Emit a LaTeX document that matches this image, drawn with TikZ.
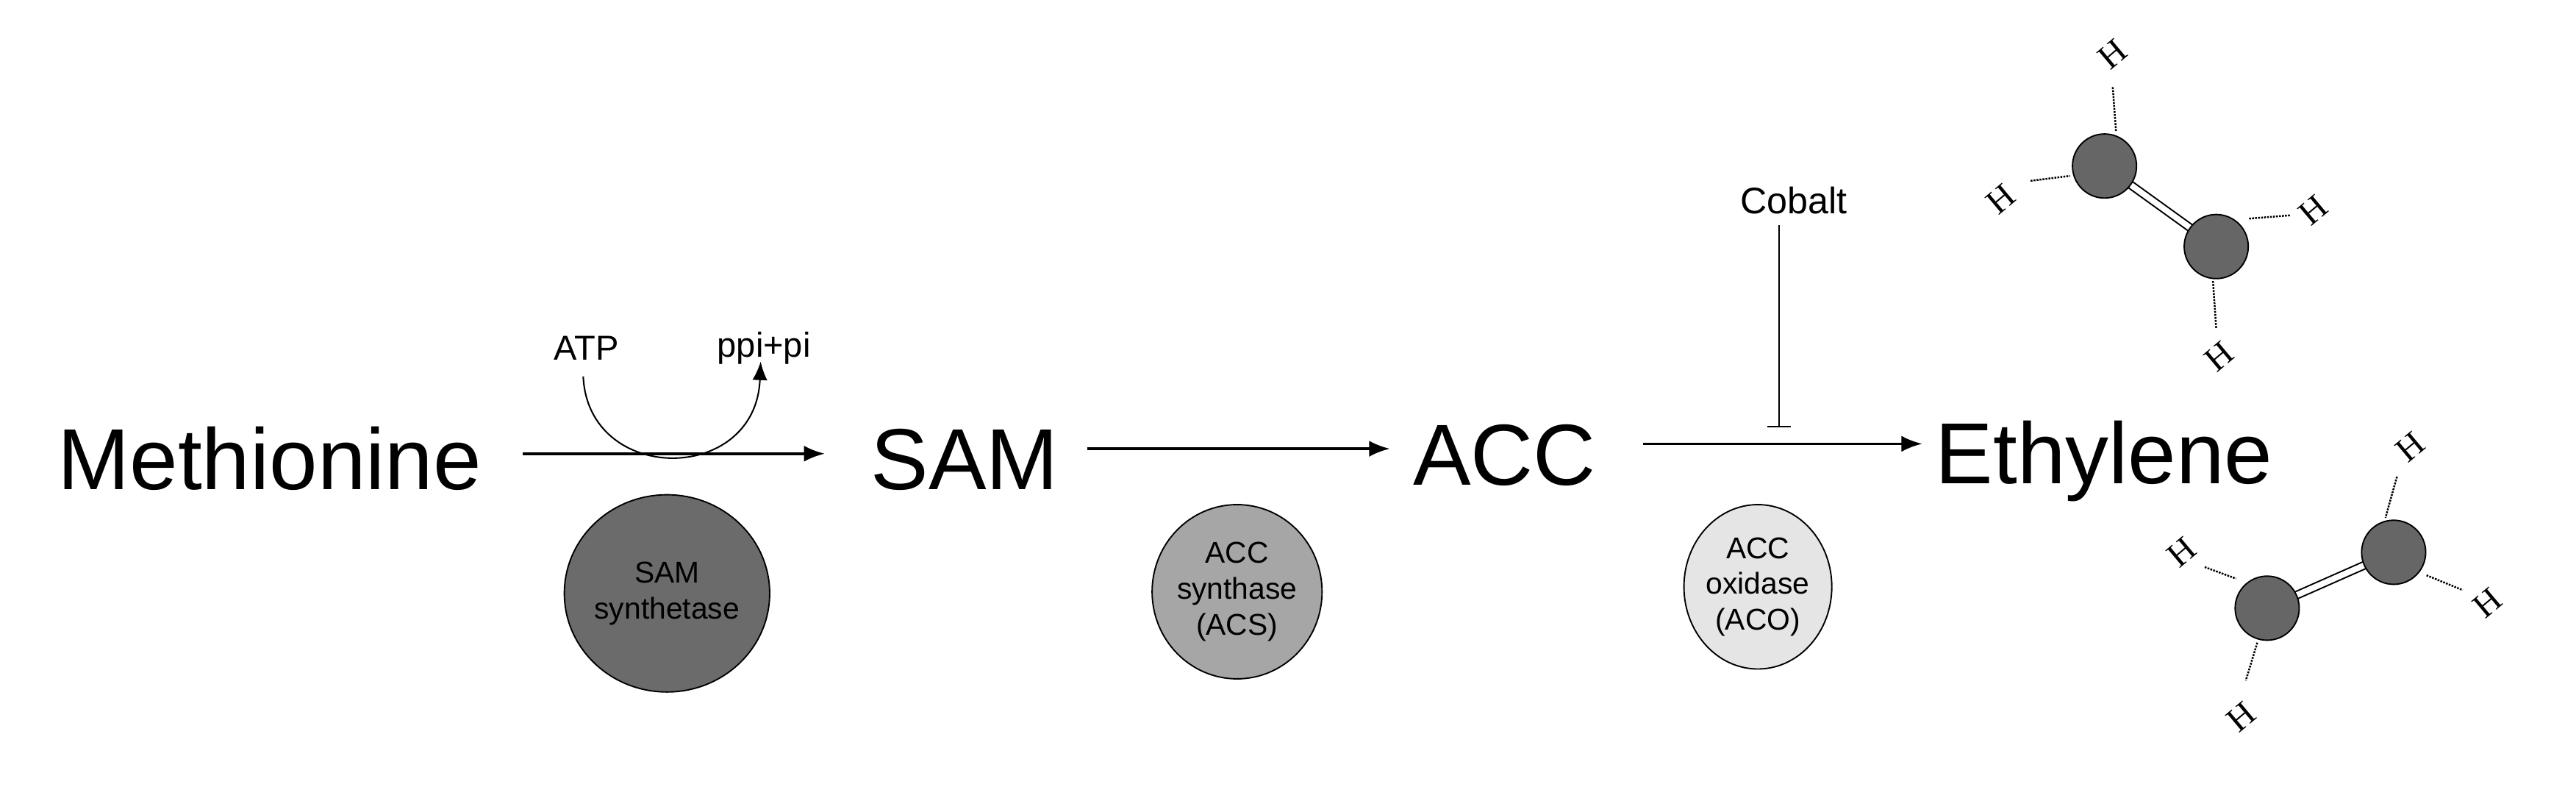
\documentclass[tikz,border=0pt]{standalone}
\usepackage{fontspec}
\setmainfont{Liberation Sans}
\newfontfamily\hserif{Liberation Serif}
\usetikzlibrary{arrows.meta}
\begin{document}
\begin{tikzpicture}[x=0.05cm,y=-0.05cm,
  big/.style={font=\fontsize{75}{80}\selectfont,inner sep=0pt,anchor=base west},
  small/.style={font=\fontsize{30}{34}\selectfont,inner sep=0pt},
  enz/.style={ellipse,draw=black,line width=1.2pt,align=center,inner sep=0pt,font=\fontsize{26}{31}\selectfont},
  arr/.style={line width=2.2pt,-{Latex[length=18pt,width=14pt]}},
  atom/.style={circle,draw=black,line width=1.2pt,fill=black!60,minimum size=39*0.05cm,inner sep=0pt},
  hh/.style={font=\hserif\fontsize{30}{30}\selectfont,inner sep=0pt},
  hb/.style={densely dotted,line width=1.6pt},
  cc/.style={double=white,double distance=5pt,line width=1.3pt}]
\useasboundingbox (0,0) rectangle (1568,487);
\usetikzlibrary{shapes.geometric}
% main texts
\node[big] (met) at (35,298) {Methionine};
\node[big] (sam) at (530,298) {SAM};
\node[big] (acc) at (860,295) {ACC};
\node[big] (eth) at (1178,294) {Ethylene};
% arrows
\coordinate (a1s) at (318,276); \coordinate (a1e) at (502,276);
\coordinate (a2s) at (662,273); \coordinate (a2e) at (846,273);
\coordinate (a3s) at (1000,270); \coordinate (a3e) at (1170,270);
\draw[arr] (a1s) -- (a1e);
\draw[arr] (a2s) -- (a2e);
\draw[arr] (a3s) -- (a3e);
% ATP loop
\node[small] (atp) at (357,212) {ATP};
\node[small] (ppi) at (465,212) {ppi+pi};
\coordinate (l1) at (355,229);
\coordinate (l3) at (463,220);
\draw[line width=1.3pt,-{Latex[length=16pt,width=13pt]}] (l1) .. controls (358,295) and (460,295) .. (l3);
% Cobalt inhibition
\node[small,font=\fontsize{32}{36}\selectfont] (cob) at (1092,122) {Cobalt};
\coordinate (inh) at (1083,260);
\draw[line width=1.3pt,-{Bar[width=20pt]}] (1083,137) -- (inh);
% enzymes
\node[enz,fill=black!58,minimum width=112*0.05cm,minimum height=120*0.05cm] (e1) at (406,361) {SAM\\synthetase};
\node[enz,fill=black!35,minimum width=95*0.05cm,minimum height=106*0.05cm] (e2) at (753,360) {ACC\\synthase\\(ACS)};
\node[enz,fill=black!10,minimum width=90*0.05cm,minimum height=100*0.05cm] (e3) at (1070,357) {ACC\\oxidase\\(ACO)};
% molecule 1
\draw[cc] (1281,101) -- (1349,150);
\node[atom] (c1) at (1281,101) {};
\node[atom] (c2) at (1349,150) {};
\node[hh,rotate=40] (h1) at (1286,33) {H};
\node[hh,rotate=40] (h2) at (1218,121) {H};
\node[hh,rotate=40] (h3) at (1408,128) {H};
\node[hh,rotate=40] (h4) at (1351,217) {H};
\draw[hb] (1286,53) -- (1288,80);
\draw[hb] (1236,110) -- (1260,107);
\draw[hb] (1369,133) -- (1394,131);
\draw[hb] (1347,171) -- (1349,200);
% molecule 2
\draw[cc] (1380,370) -- (1457,336);
\node[atom] (c3) at (1380,370) {};
\node[atom] (c4) at (1457,336) {};
\node[hh,rotate=40] (h5) at (1467,272) {H};
\node[hh,rotate=40] (h6) at (1328,336) {H};
\node[hh,rotate=40] (h7) at (1514,367) {H};
\node[hh,rotate=40] (h8) at (1364,436) {H};
\draw[hb] (1459,290) -- (1452,315);
\draw[hb] (1342,345) -- (1361,352);
\draw[hb] (1477,350) -- (1499,359);
\draw[hb] (1374,391) -- (1367,414);
\end{tikzpicture}
\end{document}
